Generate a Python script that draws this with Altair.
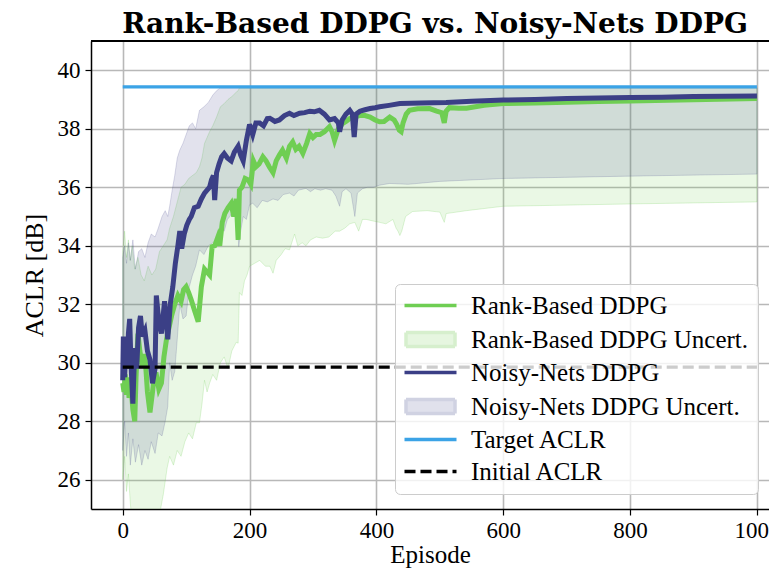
import altair as alt
import pandas as pd

# ---------------- data ----------------
RB_LABEL = "Rank-Based DDPG"
RB_UNC_LABEL = "Rank-Based DDPG Uncert."
NN_LABEL = "Noisy-Nets DDPG"
NN_UNC_LABEL = "Noisy-Nets DDPG Uncert."
TARGET_LABEL = "Target ACLR"
INITIAL_LABEL = "Initial ACLR"

LEGEND_ORDER = [RB_LABEL, RB_UNC_LABEL, NN_LABEL, NN_UNC_LABEL, TARGET_LABEL, INITIAL_LABEL]

TARGET_ACLR = 39.43
INITIAL_ACLR = 29.85
EPISODE_SPAN = [0, 1000]

X_TICKS = [0, 200, 400, 600, 800, 1000]
Y_TICKS = [26, 28, 30, 32, 34, 36, 38, 40]

# (episode, mean ACLR)
RB_MEAN = [
    (0, 29.3), (2, 29.0), (4, 29.6), (6, 28.9), (8, 29.5), (10, 28.8), (13, 29.2), (16, 28.4),
    (19, 28.0), (21, 29.5), (24, 31.0), (27, 30.4), (31, 29.9), (35, 30.3), (39, 29.0), (43, 28.3),
    (47, 29.0), (50, 29.6), (53, 29.6), (57, 29.1), (61, 29.3), (65, 30.2), (69, 30.8), (73, 31.2),
    (77, 31.6), (82, 32.0), (87, 32.3), (92, 32.1), (96, 32.5), (100, 32.6), (104, 32.4), (108, 32.15),
    (113, 31.8), (119, 31.4), (124, 32.6), (129, 33.2), (133, 33.1), (137, 33.0), (141, 33.97), (145, 34.0),
    (150, 34.3), (153, 34.0), (157, 34.8), (161, 35.1), (166, 35.3), (171, 35.45), (175, 35.0), (179, 35.6),
    (182, 34.2), (184, 35.9), (188, 36.0), (193, 36.3), (198, 36.25), (202, 36.1), (206, 36.9), (210, 36.7),
    (215, 36.8), (221, 37.04), (226, 36.9), (231, 36.7), (237, 36.5), (242, 36.9), (247, 37.1), (252, 37.27),
    (258, 37.0), (263, 37.4), (268, 37.55), (273, 37.3), (278, 37.4), (284, 37.16), (290, 37.5), (295, 37.84),
    (300, 37.7), (305, 37.8), (311, 37.8), (318, 37.9), (326, 38.07), (330, 37.9), (334, 37.6), (340, 38.0),
    (347, 38.18), (352, 38.25), (358, 38.35), (366, 38.4), (374, 38.46), (382, 38.45), (390, 38.4), (398, 38.3),
    (405, 38.24), (412, 38.25), (421, 38.4), (428, 38.3), (432, 38.15), (436, 37.95), (439, 37.9), (442, 38.2),
    (447, 38.5), (452, 38.63), (465, 38.68), (484, 38.69), (495, 38.6), (503, 38.55), (507, 38.2), (510, 38.6),
    (515, 38.72), (530, 38.7), (542, 38.7), (570, 38.8), (600, 38.86), (650, 38.88), (700, 38.91), (750, 38.93),
    (800, 38.95), (900, 38.99), (1000, 39.03),
]

NN_MEAN = [
    (0, 29.4), (1, 30.9), (3, 29.5), (5, 30.6), (7, 29.8), (9, 31.0), (11, 31.5), (13, 30.0),
    (16, 28.6), (19, 30.5), (22, 29.8), (25, 31.2), (28, 31.6), (31, 30.9), (35, 31.1), (39, 30.4),
    (43, 30.1), (47, 29.3), (51, 29.8), (53, 32.3), (57, 31.4), (61, 31.0), (66, 32.1), (71, 30.8),
    (75, 32.0), (79, 32.6), (83, 33.4), (87, 34.0), (90, 34.5), (93, 33.9), (97, 34.4), (101, 34.7),
    (105, 34.9), (108, 35.0), (113, 35.3), (119, 35.35), (124, 35.6), (129, 35.8), (133, 35.9), (137, 36.0),
    (140, 36.25), (143, 36.4), (145, 35.56), (148, 36.5), (152, 36.8), (156, 37.04), (160, 37.15), (165, 37.0),
    (171, 36.9), (176, 37.2), (182, 37.4), (186, 37.1), (190, 36.9), (195, 37.6), (200, 38.15), (205, 37.8),
    (210, 38.2), (216, 38.2), (222, 38.1), (228, 38.35), (232, 38.36), (240, 38.25), (247, 38.3), (255, 38.45),
    (263, 38.53), (270, 38.45), (279, 38.53), (287, 38.55), (295, 38.6), (302, 38.58), (310, 38.63), (318, 38.5),
    (326, 38.3), (334, 38.35), (340, 38.2), (342, 37.9), (346, 38.3), (352, 38.5), (358, 38.63), (362, 38.5),
    (365, 37.72), (368, 38.5), (374, 38.6), (382, 38.65), (390, 38.69), (398, 38.72), (405, 38.75), (420, 38.8),
    (437, 38.86), (470, 38.88), (510, 38.9), (550, 38.94), (600, 38.98), (650, 39.0), (700, 39.03), (750, 39.05),
    (800, 39.07), (850, 39.08), (900, 39.1), (950, 39.11), (1000, 39.12),
]

# (episode, lower, upper)
RB_BAND = [
    (0, 26.0, 33.8), (3, 26.8, 34.5), (6, 25.6, 33.6), (9, 26.2, 34.2), (12, 25.2, 33.5), (15, 24.5, 34.0),
    (19, 24.8, 33.2), (24, 24.2, 33.6), (29, 24.9, 33.0), (34, 24.4, 32.8), (40, 24.0, 33.3), (46, 24.6, 33.0),
    (52, 24.3, 33.2), (58, 24.8, 33.8), (64, 25.5, 34.0), (70, 26.4, 34.2), (74, 26.8, 34.6), (80, 26.5, 35.0),
    (86, 27.0, 35.5), (92, 26.8, 36.0), (98, 27.3, 36.1), (104, 27.6, 36.3), (110, 27.4, 36.4), (116, 27.95, 36.5),
    (121, 27.95, 36.7), (125, 28.6, 37.0), (129, 29.4, 37.5), (133, 29.0, 37.7), (137, 29.3, 37.9), (142, 29.6, 38.1),
    (148, 29.4, 38.4), (154, 30.0, 38.75), (160, 30.2, 38.86), (166, 29.8, 39.0), (172, 30.4, 39.1), (179, 30.7, 39.25),
    (182, 30.67, 39.3), (184, 32.4, 39.4), (188, 32.3, 39.4), (192, 32.8, 39.4), (196, 33.0, 39.4), (200, 33.3, 39.4),
    (208, 33.4, 39.4), (216, 33.5, 39.4), (225, 33.3, 39.4), (232, 33.3, 39.4), (237, 33.06, 39.4), (242, 33.5, 39.4),
    (250, 33.7, 39.4), (256, 33.9, 39.4), (263, 33.86, 39.4), (271, 34.4, 39.4), (276, 34.0, 39.4), (283, 34.1, 39.4),
    (289, 34.0, 39.4), (296, 34.2, 39.4), (305, 34.3, 39.4), (315, 34.26, 39.4), (325, 34.3, 39.4), (335, 34.5, 39.4),
    (342, 34.5, 39.4), (350, 34.6, 39.4), (358, 34.75, 39.4), (366, 34.8, 39.4), (372, 34.5, 39.4), (378, 34.9, 39.4),
    (384, 34.9, 39.4), (394, 34.85, 39.4), (405, 34.8, 39.4), (415, 34.75, 39.4), (426, 34.9, 39.4), (431, 34.6, 39.4),
    (434, 34.5, 39.4), (437, 34.35, 39.4), (440, 34.5, 39.4), (446, 35.0, 39.4), (457, 35.17, 39.4), (480, 35.2, 39.4),
    (500, 35.15, 39.4), (505, 34.9, 39.4), (507, 34.8, 39.4), (510, 35.1, 39.4), (542, 35.2, 39.4), (600, 35.35, 39.4),
    (800, 35.43, 39.4), (1000, 35.5, 39.4),
]

NN_BAND = [
    (0, 27.0, 33.6), (3, 28.0, 34.0), (6, 26.8, 33.4), (9, 27.6, 34.1), (12, 26.5, 33.5), (16, 27.4, 34.2),
    (20, 26.6, 33.2), (25, 27.2, 33.8), (30, 26.5, 33.9), (35, 27.0, 33.6), (40, 26.7, 34.1), (45, 27.3, 34.4),
    (51, 26.9, 34.3), (56, 27.6, 34.6), (62, 27.5, 35.0), (67, 28.0, 35.2), (71, 28.5, 35.0), (74, 30.0, 35.35),
    (78, 29.4, 35.9), (82, 29.7, 36.4), (86, 30.8, 37.0), (90, 32.0, 37.27), (95, 31.5, 37.5), (100, 31.6, 37.8),
    (105, 32.6, 38.1), (110, 33.0, 38.2), (115, 33.3, 38.0), (121, 33.86, 38.63), (128, 33.7, 38.75), (135, 34.0, 38.9),
    (142, 34.1, 39.15), (148, 34.2, 39.3), (154, 34.6, 39.4), (160, 34.5, 39.4), (165, 34.9, 39.4), (169, 35.0, 39.4),
    (174, 35.2, 39.4), (180, 35.0, 39.4), (183, 33.97, 39.4), (186, 34.5, 39.4), (190, 35.0, 39.4), (195, 34.9, 39.4),
    (200, 35.4, 39.4), (205, 35.45, 39.4), (212, 35.3, 39.4), (220, 35.55, 39.4), (228, 35.5, 39.4), (237, 35.6, 39.4),
    (245, 35.55, 39.4), (253, 35.75, 39.4), (263, 35.8, 39.4), (270, 35.7, 39.4), (277, 35.9, 39.4), (289, 35.96, 39.4),
    (296, 35.85, 39.4), (303, 35.95, 39.4), (312, 35.9, 39.4), (320, 35.95, 39.4), (330, 35.9, 39.4), (336, 35.7, 39.4),
    (342, 35.35, 39.4), (346, 35.85, 39.4), (352, 35.95, 39.4), (360, 35.8, 39.4), (366, 35.0, 39.4), (370, 35.8, 39.4),
    (378, 35.95, 39.4), (386, 36.0, 39.4), (395, 36.0, 39.4), (405, 36.07, 39.4), (421, 36.13, 39.4), (450, 36.1, 39.4),
    (500, 36.2, 39.4), (600, 36.3, 39.4), (800, 36.38, 39.4), (1000, 36.45, 39.4),
]

# ---------------- styling ----------------
GREEN = "#6fce53"
BLUE = "#3b3f86"
TARGET_BLUE = "#3ba3e6"
RB_FILL_LEGEND = "#e6f6e0"
NN_FILL_LEGEND = "#e0e1ec"
RB_EDGE_LEGEND = "#d6efcd"
NN_EDGE_LEGEND = "#d0d2e2"

LINE_PATH = "M-1,0H4.2"
RECT_PATH = "M-0.85,-0.7H4.05V0.7H-0.85Z"
LEGEND_SHAPES = [LINE_PATH, RECT_PATH, LINE_PATH, RECT_PATH, LINE_PATH, LINE_PATH]
LEGEND_STROKES = [GREEN, RB_EDGE_LEGEND, BLUE, NN_EDGE_LEGEND, TARGET_BLUE, "black"]
LEGEND_FILLS = ["transparent", RB_FILL_LEGEND, "transparent", NN_FILL_LEGEND, "transparent", "transparent"]
LEGEND_DASHES = [[1, 0], [1, 0], [1, 0], [1, 0], [1, 0], [11, 5]]

SERIF = "Liberation Serif"
PLOT_W = 678
PLOT_H = 468

rb_mean_df = pd.DataFrame(RB_MEAN, columns=["ep", "value"])
nn_mean_df = pd.DataFrame(NN_MEAN, columns=["ep", "value"])
rb_band_df = pd.DataFrame(RB_BAND, columns=["ep", "lo", "hi"])
nn_band_df = pd.DataFrame(NN_BAND, columns=["ep", "lo", "hi"])
target_df = pd.DataFrame({"ep": EPISODE_SPAN, "value": [TARGET_ACLR] * 2})
initial_df = pd.DataFrame({"ep": EPISODE_SPAN, "value": [INITIAL_ACLR] * 2})
legend_df = pd.DataFrame({"series": LEGEND_ORDER})

xscale = alt.Scale(domain=[-50, 1019], nice=False, zero=False)
yscale = alt.Scale(domain=[25, 41], nice=False, zero=False)

x_axis = alt.Axis(values=X_TICKS, format="d", title="Episode", grid=True, titleFontSize=25,
                  titlePadding=0, labelPadding=4)
y_axis = alt.Axis(values=Y_TICKS, format="d", title="ACLR [dB]", grid=True, titleFontSize=26,
                  titlePadding=10, labelPadding=5)


def xe():
    return alt.X("ep:Q", scale=xscale, axis=x_axis)


def ye(field):
    return alt.Y(field + ":Q", scale=yscale, axis=y_axis)


legend = alt.Legend(
    title=None,
    orient="none",
    legendX=304,
    legendY=243,
    symbolSize=400,
    symbolStrokeWidth=3.5,
    labelOffset=44,
    symbolOffset=-2,
    labelLimit=400,
    labelFont=SERIF,
    labelFontSize=25,
    labelColor="black",
    rowPadding=6,
    padding=9,
    fillColor="rgba(255,255,255,0.8)",
    strokeColor="#cccccc",
    cornerRadius=5,
)

rb_band = alt.Chart(rb_band_df).mark_area(
    color=GREEN, fillOpacity=0.15, stroke=GREEN, strokeOpacity=0.22, strokeWidth=1, clip=True
).encode(x=xe(), y=ye("lo"), y2="hi:Q")

nn_band = alt.Chart(nn_band_df).mark_area(
    color=BLUE, fillOpacity=0.15, stroke=BLUE, strokeOpacity=0.18, strokeWidth=1, clip=True
).encode(x=xe(), y=ye("lo"), y2="hi:Q")

rb_line = alt.Chart(rb_mean_df).mark_line(strokeWidth=5, color=GREEN, clip=True).encode(
    x=xe(), y=ye("value"), order="ep:Q")

nn_line = alt.Chart(nn_mean_df).mark_line(strokeWidth=5, color=BLUE, clip=True).encode(
    x=xe(), y=ye("value"), order="ep:Q")

target_line = alt.Chart(target_df).mark_line(strokeWidth=3.2, color=TARGET_BLUE, clip=True).encode(
    x=xe(), y=ye("value"))

initial_line = alt.Chart(initial_df).mark_line(
    strokeWidth=3.2, color="black", strokeDash=[11, 5], clip=True
).encode(x=xe(), y=ye("value"))

# top spine of the frame (the right spine lies outside the picture in the reference)
top_spine = alt.Chart(legend_df).mark_rule(color="black", strokeWidth=1.5).encode(
    x=alt.value(0), x2=alt.value(PLOT_W), y=alt.value(0)
)

# legend-only layer: the points sit outside the clipped plot area, only the legend shows
legend_layer = alt.Chart(legend_df).mark_point(clip=True, size=400, opacity=1).encode(
    x=alt.value(-30),
    y=alt.value(PLOT_H + 30),
    shape=alt.Shape("series:N", scale=alt.Scale(domain=LEGEND_ORDER, range=LEGEND_SHAPES), legend=legend),
    stroke=alt.Stroke("series:N", scale=alt.Scale(domain=LEGEND_ORDER, range=LEGEND_STROKES), legend=legend),
    fill=alt.Fill("series:N", scale=alt.Scale(domain=LEGEND_ORDER, range=LEGEND_FILLS), legend=legend),
    strokeDash=alt.StrokeDash("series:N", scale=alt.Scale(domain=LEGEND_ORDER, range=LEGEND_DASHES), legend=legend),
)

chart = (
    alt.layer(rb_band, nn_band, rb_line, nn_line, target_line, initial_line, top_spine, legend_layer)
    .properties(
        width=PLOT_W,
        height=PLOT_H,
        autosize=alt.AutoSizeParams(type="none"),
        padding={"left": 83, "top": 33, "right": 0, "bottom": 60},
        title=alt.TitleParams(
            "Rank-Based DDPG vs. Noisy-Nets DDPG",
            font="DejaVu Serif", fontSize=28, fontWeight="bold", color="black",
            anchor="middle", offset=1, dx=5, frame="group",
        ),
    )
    .configure_view(stroke=None)
    .configure_axis(
        labelFont=SERIF, labelFontSize=23, labelColor="black",
        titleFont=SERIF, titleFontWeight="normal", titleColor="black",
        domainColor="black", domainWidth=1.5,
        tickColor="black", tickWidth=1.2, tickSize=6,
        gridColor="#b8b8b8", gridWidth=1.6, gridOpacity=1,
    )
)

chart.save("out.html", embed_options={"renderer": "svg", "actions": False})
